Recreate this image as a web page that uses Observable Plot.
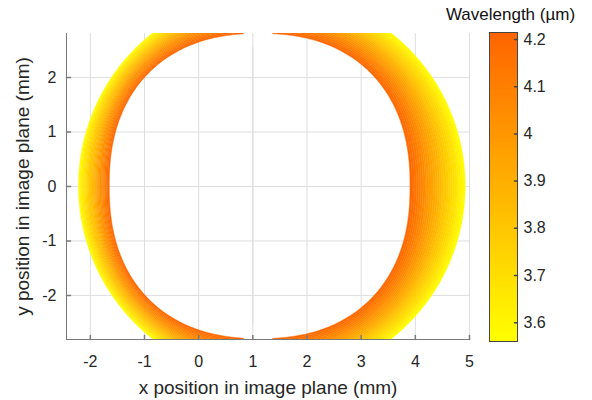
<!DOCTYPE html>
<html><head><meta charset="utf-8">
<script src="https://cdn.jsdelivr.net/npm/d3@7"></script>
<script src="https://cdn.jsdelivr.net/npm/@observablehq/plot@0.6"></script>
<style>
body{margin:0;background:#fff;font-family:"Liberation Sans",Arial,sans-serif;}
#chart{position:relative;width:592px;height:400px;overflow:hidden;}
#chart svg{position:absolute;top:0;}
</style></head><body><div id="chart"></div>
<script>
// Ring contour per wavelength (µm): centre x, horizontal half-width, vertical half-height (mm), shape exponent
const wavelength = [3.56, 3.585, 3.61, 3.635, 3.66, 3.685, 3.71, 3.735, 3.76, 3.785, 3.81, 3.835, 3.86, 3.885,
                    3.91, 3.935, 3.96, 3.985, 4.01, 4.035, 4.06, 4.085, 4.11, 4.135, 4.16, 4.185, 4.21];
const centerX    = [1.36, 1.35, 1.34, 1.33, 1.33, 1.32, 1.31, 1.30, 1.29, 1.28, 1.27, 1.27, 1.26, 1.25,
                    1.24, 1.23, 1.22, 1.21, 1.20, 1.20, 1.19, 1.18, 1.17, 1.16, 1.15, 1.14, 1.135];
const halfWidth  = [3.57, 3.54, 3.51, 3.48, 3.45, 3.42, 3.39, 3.36, 3.33, 3.30, 3.26, 3.23, 3.20, 3.17,
                    3.14, 3.11, 3.08, 3.05, 3.02, 2.99, 2.96, 2.93, 2.90, 2.87, 2.84, 2.81, 2.775];
const halfHeight = [3.57, 3.54, 3.51, 3.48, 3.45, 3.42, 3.39, 3.36, 3.33, 3.30, 3.27, 3.24, 3.22, 3.19,
                    3.16, 3.13, 3.10, 3.07, 3.04, 3.01, 2.98, 2.95, 2.92, 2.89, 2.86, 2.83, 2.80];
const exponent   = [2.00, 2.01, 2.02, 2.03, 2.05, 2.06, 2.07, 2.08, 2.09, 2.10, 2.12, 2.13, 2.14, 2.15,
                    2.16, 2.17, 2.18, 2.20, 2.21, 2.22, 2.23, 2.24, 2.25, 2.27, 2.28, 2.29, 2.30];
// empty slot in the data (mm): x range, and |y| from which it shows
const slotX = [0.84, 1.37];
const slotYFrom = 2.55;

const xTicks = [-2, -1, 0, 1, 2, 3, 4, 5];
const yTicks = [-2, -1, 0, 1, 2];
const cbTicks = [3.6, 3.7, 3.8, 3.9, 4, 4.1, 4.2];
const xDomain = [-2.44, 5];
const yDomain = [-2.81, 2.81];
const cDomain = [3.56, 4.215];
const cRange = ["#ffff00", "#ff6400"];

const xLabel = "x position in image plane (mm)";
const yLabel = "y position in image plane (mm)";
const cLabel = "Wavelength (µm)";

const rings = wavelength.map((w, i) => ({w, cx: centerX[i], a: halfWidth[i], b: halfHeight[i], n: exponent[i]}));
const slots = [{x1: slotX[0], x2: slotX[1], y1: slotYFrom, y2: yDomain[1]},
               {x1: slotX[0], x2: slotX[1], y1: yDomain[0], y2: -slotYFrom}];

const axisColor = "#7a7a7a";
const textColor = "#262626";
const gridColor = "#dedede";
const fmt = d => String(d);
const tickShape = {draw(ctx, l) { ctx.moveTo(0, 0); ctx.lineTo(0, -l); }};

function contour(r, sx, sy, steps = 360) {
  let d = "";
  for (let k = 0; k < steps; k++) {
    const t = 2 * Math.PI * k / steps, c = Math.cos(t), s = Math.sin(t);
    const x = r.cx + r.a * Math.sign(c) * Math.pow(Math.abs(c), 2 / r.n);
    const y = r.b * Math.sign(s) * Math.pow(Math.abs(s), 2 / r.n);
    d += (k ? "L" : "M") + sx(x).toFixed(2) + "," + sy(y).toFixed(2);
  }
  return d + "Z";
}

function ringMark(index, scales, values, dimensions) {
  const {width, height, marginLeft, marginRight, marginTop, marginBottom} = dimensions;
  const g = d3.create("svg:g");
  g.append("clipPath").attr("id", "ring-clip").append("rect")
    .attr("x", marginLeft).attr("y", marginTop)
    .attr("width", width - marginLeft - marginRight).attr("height", height - marginTop - marginBottom);
  const body = g.append("g").attr("clip-path", "url(#ring-clip)");
  for (let i = 0; i < rings.length - 1; i++) {
    const w = (rings[i].w + rings[i + 1].w) / 2;
    body.append("path")
      .attr("d", contour(rings[i], scales.x, scales.y) + contour(rings[i + 1], scales.x, scales.y))
      .attr("fill", scales.color(w))
      .attr("stroke", scales.color(w))
      .attr("stroke-width", 0.4)
      .attr("fill-rule", "evenodd");
  }
  return g.node();
}

const font = "Liberation Sans, Arial, Helvetica, sans-serif";

const main = Plot.plot({
  width: 480, height: 400,
  marginLeft: 66, marginRight: 11, marginTop: 33, marginBottom: 61,
  style: {background: "transparent", overflow: "visible", fontFamily: font},
  x: {domain: xDomain},
  y: {domain: yDomain},
  color: {type: "linear", domain: cDomain, range: cRange},
  marks: [
    Plot.gridX(xTicks, {stroke: gridColor, strokeOpacity: 1}),
    Plot.gridY(yTicks, {stroke: gridColor, strokeOpacity: 1}),
    Plot.dot(rings, {x: "cx", y: () => 0, fill: "w", r: 0}),
    ringMark,
    Plot.rect(slots, {x1: "x1", x2: "x2", y1: "y1", y2: "y2", fill: "white"}),
    Plot.gridX(xTicks.filter(t => t > slotX[0] && t < slotX[1]), {stroke: gridColor, strokeOpacity: 1}),
    Plot.ruleY([yDomain[0]], {stroke: axisColor}),
    Plot.ruleX([xDomain[0]], {stroke: axisColor}),
    Plot.vector(xTicks, {x: d => d, frameAnchor: "bottom", length: 4, anchor: "start", shape: tickShape, stroke: axisColor}),
    Plot.vector(yTicks, {y: d => d, frameAnchor: "left", length: 4, anchor: "start", rotate: 90, shape: tickShape, stroke: axisColor}),
    Plot.axisX(xTicks, {tickSize: 0, tickPadding: 16, fontSize: 16, label: null, color: textColor, tickFormat: fmt}),
    Plot.axisY(yTicks, {tickSize: 0, tickPadding: 10, fontSize: 16, label: null, color: textColor, tickFormat: fmt}),
    Plot.text([xLabel], {frameAnchor: "bottom", dy: 48, lineAnchor: "middle", textAnchor: "middle", fontSize: 19, fill: textColor}),
    Plot.text([yLabel], {frameAnchor: "left", dx: -44, rotate: -90, lineAnchor: "middle", textAnchor: "middle", fontSize: 19, fill: textColor})
  ]
});
main.style.left = "0px";

const step = 0.004;
const stops = d3.range(cDomain[0], cDomain[1], step);
const bar = Plot.plot({
  width: 192, height: 400,
  marginLeft: 89, marginRight: 75, marginTop: 32, marginBottom: 59,
  style: {background: "transparent", overflow: "visible", fontFamily: font},
  x: {domain: [0, 1], axis: null},
  y: {domain: cDomain},
  color: {type: "linear", domain: cDomain, range: cRange},
  marks: [
    Plot.rect(stops, {x1: 0, x2: 1, y1: d => d, y2: d => Math.min(d + step * 1.5, cDomain[1]), fill: d => d + step / 2}),
    Plot.frame({stroke: "#444"}),
    Plot.vector(cbTicks, {y: d => d, frameAnchor: "right", length: 3, anchor: "start", rotate: -90, shape: tickShape, stroke: "#444"}),
    Plot.axisY(cbTicks, {anchor: "right", tickSize: 0, tickPadding: 6, fontSize: 16, label: null, color: textColor, tickFormat: fmt}),
    Plot.text([cLabel], {frameAnchor: "top", dy: -18, dx: 7, lineAnchor: "middle", textAnchor: "middle", fontSize: 17, fill: "#111"})
  ]
});
bar.style.left = "400px";

const chart = document.getElementById("chart");
chart.append(main);
chart.append(bar);
</script></body></html>
